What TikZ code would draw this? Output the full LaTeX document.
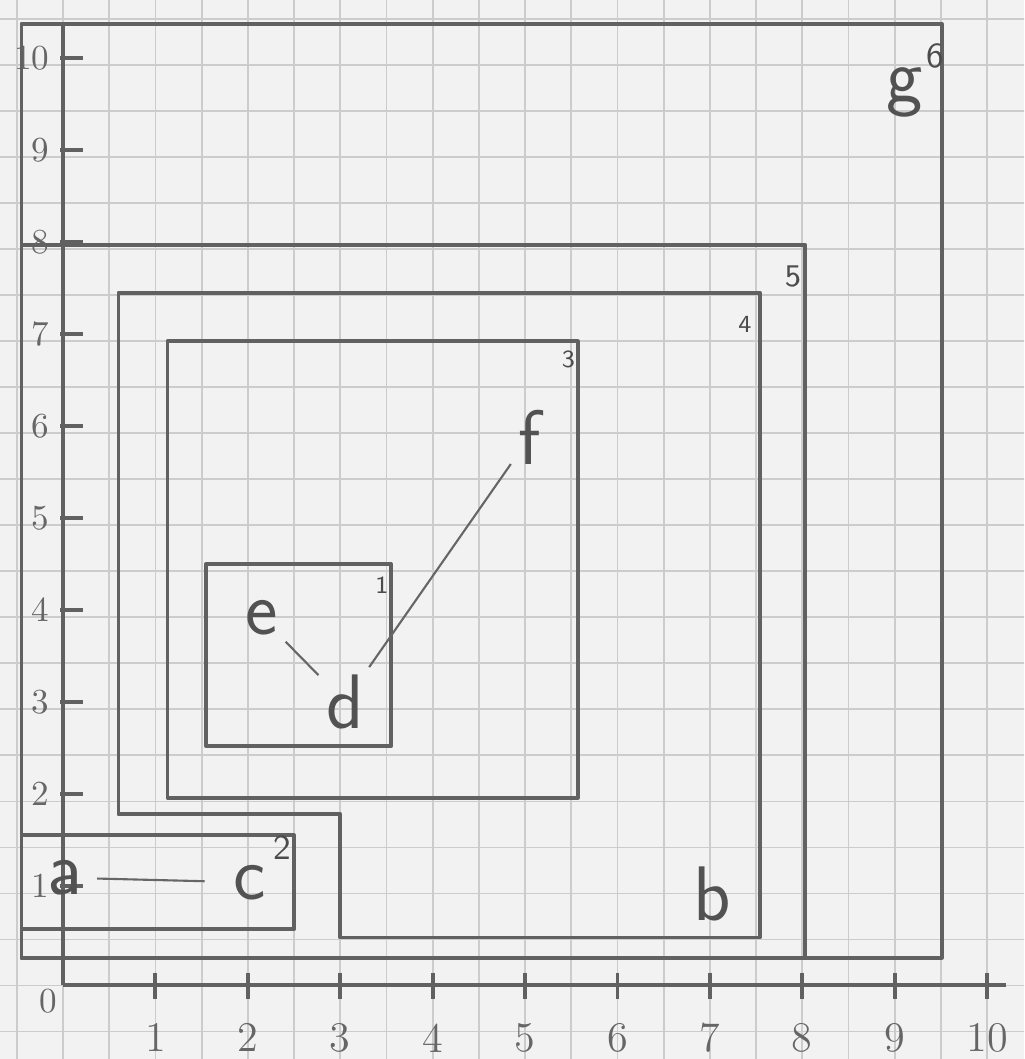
\documentclass[tikz,border=0pt]{standalone}
\usetikzlibrary{positioning}
\begin{document}
\begin{tikzpicture}[x=0.924cm, y=0.92cm,
    paperline/.style={draw=black!20, line width=0.5pt},
    pencil/.style={draw=black!62, line width=1.1pt, line join=round},
    thinpencil/.style={draw=black!60, line width=0.6pt},
    pt/.style={font=\sffamily\fontsize{22}{26}\selectfont, text=black!68, inner sep=2pt},
    boxlab/.style={font=\sffamily\small, text=black!70, inner sep=1pt},
    axlab/.style={font=\large, text=black!60, inner sep=1pt}]
    % paper
    \fill[black!5] (-0.682,-0.8) rectangle (10.4,10.71);
    \useasboundingbox (-0.682,-0.8) rectangle (10.4,10.71);
    \clip (-0.682,-0.8) rectangle (10.4,10.71);
    \foreach \x in {-0.5,0,...,10}
    \draw[paperline] (\x,-1) -- (\x,11);
    \foreach \y in {-0.5,0,...,10.5}
    \draw[paperline] (-1,\y) -- (10.5,\y);

    % axes
    \draw[pencil] (0,0) -- (10.2,0);
    \draw[pencil] (0,0) -- (0,10.45);
    \foreach \x in {1,...,10}
    \draw[pencil] (\x,0.14) -- (\x,-0.15);
    \foreach \x in {1,...,10}
    \path (\x,-0.57) node[axlab] (x\x) {\x};
    \foreach \y in {1,...,10}
    \draw[pencil] (-0.03,\y+0.08) -- (0.22,\y+0.08);
    \foreach \y in {1,...,10}
    \path (-0.1,\y+0.08) node[axlab, font=\normalsize, left] (y\y) {\y};
    \path (-0.16,-0.17) node[axlab, font=\normalsize] (o) {0};

    % boxes 1 ... 6
    \draw[pencil] (1.55,2.6) rectangle (3.55,4.58);
    \draw[pencil] (-0.45,0.61) rectangle (2.5,1.63);
    \draw[pencil] (1.13,2.04) rectangle (5.57,7.0);
    \draw[pencil] (0.6,7.53) -- (7.54,7.53) -- (7.54,0.52) -- (3,0.52) -- (3,1.86) -- (0.6,1.86) -- cycle;
    \draw[pencil] (-0.45,0.3) rectangle (8.03,8.05);
    \draw[pencil] (-0.45,0.3) rectangle (9.51,10.45);
    \path (3.45,4.35) node[boxlab, font=\sffamily\scriptsize] (n1) {1};
    \path (2.37,1.5) node[boxlab, font=\sffamily\normalsize] (n2) {2};
    \path (5.47,6.8) node[boxlab, font=\sffamily\scriptsize] (n3) {3};
    \path (7.38,7.18) node[boxlab, font=\sffamily\scriptsize] (n4) {4};
    \path (7.9,7.7) node[boxlab] (n5) {5};
    \path (9.44,10.1) node[boxlab, font=\sffamily\normalsize] (n6) {6};

    % points
    \path (0.02,1.17) node[pt] (a) {a};
    \path (7.03,0.99) node[pt] (b) {b};
    \path (2.02,1.12) node[pt] (c) {c};
    \path (3.05,3.08) node[pt] (d) {d};
    \path (2.15,4.0) node[pt] (e) {e};
    \path (5.05,5.96) node[pt] (f) {f};
    \path (9.11,9.71) node[pt] (g) {g};
    \draw[thinpencil, shorten <=2pt, shorten >=6pt] (a) -- (c);
    \draw[thinpencil] (e) -- (d);
    \draw[thinpencil] (d) -- (f);
\end{tikzpicture}
\end{document}
